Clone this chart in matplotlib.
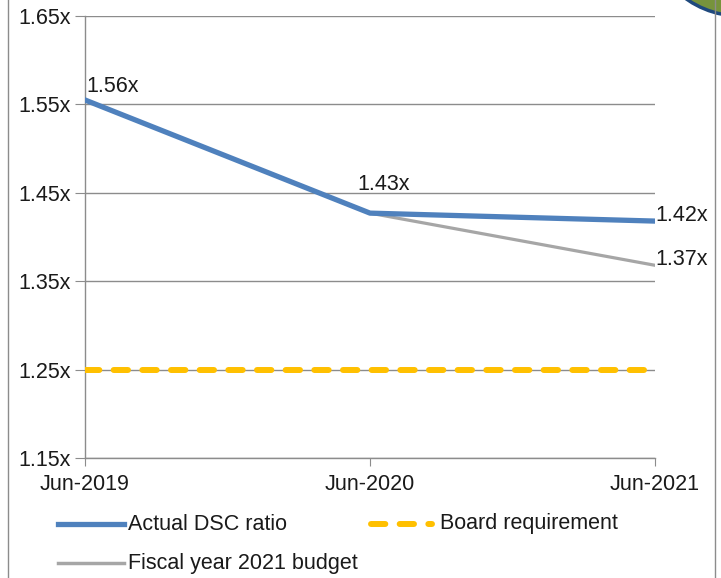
import matplotlib
matplotlib.use("Agg")
import matplotlib.pyplot as plt
from matplotlib.lines import Line2D
from matplotlib.patches import Circle

plt.rcParams['font.family'] = ['Liberation Sans', 'DejaVu Sans']

categories = ["Jun-2019", "Jun-2020", "Jun-2021"]
actual = [1.555, 1.427, 1.418]
budget_x = [1, 2]
budget = [1.427, 1.368]
board = [1.25, 1.25, 1.25]
actual_labels = ["1.56x", "1.43x", "1.42x"]
budget_labels = ["1.37x"]
yticks = [1.15, 1.25, 1.35, 1.45, 1.55, 1.65]
series_names = ["Actual DSC ratio", "Board requirement", "Fiscal year 2021 budget"]

blue = "#4F81BD"
gray = "#A6A6A6"
yellow = "#FFC000"
txt = "#1A1A1A"

fig = plt.figure(figsize=(7.21, 5.78), dpi=100)
ax = fig.add_axes([85/721, 1-458/578, (655-85)/721, (458-16)/578])

x = list(range(len(categories)))
ax.plot(x, board, color=yellow, lw=4.3, dashes=(2.4, 2.4), dash_capstyle='round', zorder=3)
ax.plot(budget_x, budget, color=gray, lw=2.3, zorder=3)
ax.plot(x, actual, color=blue, lw=3.8, zorder=4, solid_joinstyle='round')

fs = 15.5
ax.text(x[0] + 0.004, actual[0] + 0.003, actual_labels[0], fontsize=fs, ha='left', va='bottom', color=txt)
ax.text(x[1] - 0.045, actual[1] + 0.021, actual_labels[1], fontsize=fs, ha='left', va='bottom', color=txt)
ax.text(x[2] + 0.0, actual[2] + 0.006, actual_labels[2], fontsize=fs, ha='left', va='center', color=txt)
ax.text(budget_x[-1] + 0.0, budget[-1] + 0.006, budget_labels[0], fontsize=fs, ha='left', va='center', color=txt)

ax.set_xlim(0, 2)
ax.set_ylim(1.15, 1.65)
ax.set_yticks(yticks)
ax.set_yticklabels([f"{v:.2f}x" for v in yticks], fontsize=fs, color=txt)
ax.set_xticks(x)
ax.set_xticklabels(categories, fontsize=fs, color=txt)
ax.grid(axis='y', color='#8C8C8C', lw=1.0)
ax.set_axisbelow(True)
for s in ['top', 'right']:
    ax.spines[s].set_visible(False)
for s in ['left', 'bottom']:
    ax.spines[s].set_color('#8C8C8C')
    ax.spines[s].set_linewidth(1.0)
ax.tick_params(axis='y', length=7, color='#8C8C8C', pad=3)
ax.tick_params(axis='x', length=6, color='#8C8C8C', pad=5.5)

# legend drawn manually
def fx(px):
    return px / 721
def fy(py):
    return 1 - py / 578

fig.add_artist(Line2D([fx(58), fx(124)], [fy(524), fy(524)], color=blue, lw=3.8))
fig.text(fx(128), fy(524), series_names[0], fontsize=fs, va='center', ha='left', color=txt)
fig.add_artist(Line2D([fx(371), fx(432)], [fy(524), fy(524)], color=yellow, lw=4.3,
                      dashes=(2.4, 2.4), dash_capstyle='round'))
fig.text(fx(440), fy(524), series_names[1], fontsize=fs, va='center', ha='left', color=txt)
fig.add_artist(Line2D([fx(58), fx(124)], [fy(563), fy(563)], color=gray, lw=2.5))
fig.text(fx(128), fy(563), series_names[2], fontsize=fs, va='center', ha='left', color=txt)

# frame lines
fig.add_artist(Line2D([fx(8), fx(8)], [0, 1], color='#8C8C8C', lw=1.0))
fig.add_artist(Line2D([fx(715), fx(715)], [0, 1], color='#8C8C8C', lw=1.0))

# decorative circle at top right (inch coordinates so it stays round)
circ = Circle((7.40, (578 + 77) / 100), radius=0.93, transform=fig.dpi_scale_trans,
              facecolor='#77933C', edgecolor='#1F497D', lw=2.5, clip_on=False)
fig.add_artist(circ)

fig.savefig("out.png", dpi=100)
